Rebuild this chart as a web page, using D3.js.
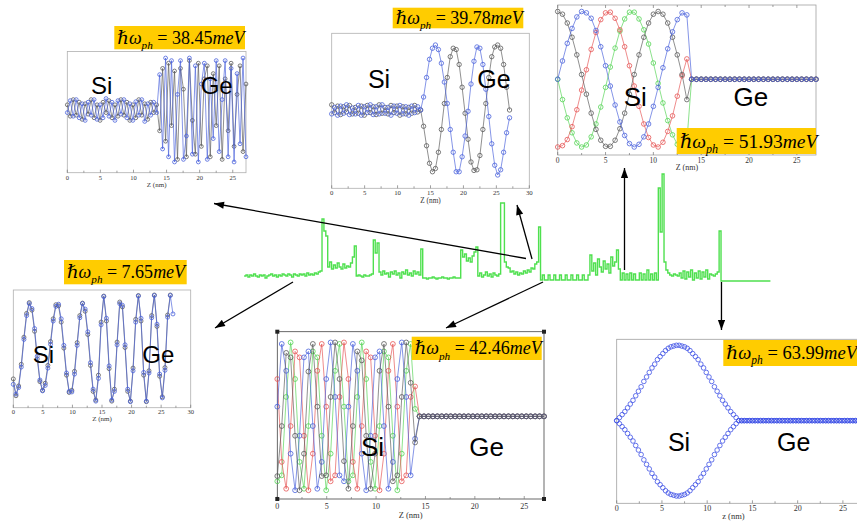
<!DOCTYPE html>
<html><head><meta charset="utf-8">
<script src="https://cdn.jsdelivr.net/npm/d3@7"></script>
<style>html,body{margin:0;padding:0;background:#fff;}svg{display:block;}</style>
</head><body>
<svg id="chart" width="857" height="521"></svg>
<script>
// ================= DATA =================
// central spectrum (arbitrary units) on an energy grid (meV)
const specStart = 1.2, specStep = 0.25;
const spectrum = [
 5,6,4,6,5,7,5,4,6,5, 6,3,5,6,7,5,6,4,6,5, 7,6,5,7,6,4,7,6,5,7, 6,7,5,8,6,7,6,8,7,9, 10,
 62,50,45,
 14,19,12,16,13,18,14,12,17,13,15,14,18,
 24,35,
 5,6,5,4,6,5,5,6,7,
 41,28,38,
 9,6,10,7,8,4,9,7,10,6, 8,3,9,7,11,6,8,5,10,7, 9,6,
 32,
 3,3,2,3,3,4,3,2,3,3, 4,3,3,2,3,3,4,3,3,
 3,
 31,24,27,20,23,19,25,29,34,
 5,8,4,6,9,5,7,4,8,6,5,7,
 78,78,
 19,14,13,9,10,7,9,6,8,7,10,8,11,9,13,12,17,19,
 54,
 1,6,1,1,6,1,1,6,1,1,6,1,1,6,1,1,6,1,1,6,1,1,6,1,1,6,
 26,10,18,6,22,14,9,20,12,17,8,24,15,19,31,12,
 1,8,1,7,1,8,1,7,1,1,8,1,7,1,11,1,7,1,8,1,
 93,49,107,19,11,8,
 6,5,7,6,5,8,3,10,2,9,4,11,1,8,3,10,2,9,4,11,2,7,6,5,7,9,
 50,
 0,0,0,0,0,0,0,0,0,0,0,0,0,0,0,0,0,0,0,0,0,0,0,0,0,0,0
];
const modeEnergies = ["38.45","39.78","51.93","7.65","42.46","63.99"];
// where each arrow leaves the spectrum (energy, value)
const arrowTailE = [38.29, 39.08, 51.25, 7.63, 40.53, 64.01];
const arrowTailV = [22.5, 22, 11, -1, -1, -1];

// inset A : 38.45 meV  (z step 0.45 nm)
const zStepA = 0.45;
const aBlue = [-0.05,0.18,-0.12,0.2,-0.15,0.12,-0.2,0.15,-0.1,0.2,-0.18,0.1,-0.15,0.22,-0.12,0.15,-0.2,0.18,-0.08,0.2,-0.15,0.12,-0.2,0.16,-0.1,0.2,-0.22,0.12,-0.1,0.15,-0.05,
 0.68,-0.75,1.0,-0.9,0.95,-1.0,0.3,0.95,-0.95,-0.5,1.0,-0.85,0.85,-1.0,0.5,0.9,-0.95,0.6,-0.55,0.95,-0.8,0.2,0.95,-0.9,0.8,-1.0,0.7,-0.65,1.0,-0.9];
const aGray = [0.1,-0.12,0.2,-0.1,0.15,-0.18,0.12,-0.08,0.2,-0.15,0.1,-0.2,0.15,-0.05,0.18,-0.15,0.1,-0.12,0.2,-0.1,0.15,-0.2,0.1,-0.15,0.2,-0.1,0.12,-0.18,0.15,-0.05,0.1,
 -0.4,0.8,-0.6,0.9,-0.3,0.75,-0.95,0.8,0.4,-0.9,0.95,-0.2,-0.85,0.9,-0.7,0.6,0.85,-0.9,0.7,-0.3,0.85,-0.95,0.6,-0.4,0.9,-0.7,0.3,0.85,-0.8,0.5];

// inset B : 39.78 meV
const zStepB = 0.45;
const bBlue = [-0.06,0.04,-0.08,0.06,-0.05,0.08,-0.07,0.03,-0.06,0.07,-0.08,0.05,-0.04,0.08,-0.07,0.05,-0.06,0.08,-0.05,0.04,-0.08,0.06,-0.05,0.07,-0.06,0.05,-0.08,0.06,-0.04,0.05,
 0.0,0.2,0.5,0.78,0.95,1.0,0.93,0.72,0.43,0.1,-0.3,-0.65,-0.95,-0.95,-0.72,-0.4,-0.02,0.4,0.75,0.97,0.95,0.7,0.32,-0.1,-0.52,-0.85,-1.0,-0.92,-0.65,-0.35,-0.12];
const bGray = [0.08,-0.04,0.06,-0.07,0.05,-0.03,0.07,-0.06,0.04,-0.05,0.06,-0.08,0.07,-0.04,0.05,-0.07,0.08,-0.05,0.04,-0.06,0.07,-0.04,0.06,-0.08,0.05,-0.06,0.04,-0.05,0.07,-0.03,
 0.0,-0.25,-0.55,-0.82,-0.95,-0.9,-0.65,-0.3,0.1,0.5,0.82,0.95,0.93,0.7,0.35,-0.05,-0.45,-0.8,-0.93,-0.92,-0.7,-0.3,0.1,0.5,0.82,0.97,1.0,0.95,0.7,0.35,0.0];

// inset C : 51.93 meV  (z step 0.5 nm)
const zStepC = 0.5;
const cGe = [0,0,0,0,0,0,0,0,0,0,0,0,0,0,0,0,0,0,0,0,0,0,0,0,0,0,0];
const cBlack = [1.0,0.96,0.83,0.62,0.36,0.07,-0.22,-0.5,-0.74,-0.9,-0.99,-0.99,-0.9,-0.73,-0.5,-0.22,0.07,0.36,0.62,0.83,0.96,1.0,0.96,0.83,0.62,0.36,0.07,-0.3];
const cBlue  = [0.0,0.27,0.53,0.75,0.92,1.0,0.98,0.9,0.72,0.48,0.2,-0.1,-0.38,-0.63,-0.83,-0.95,-1.0,-0.96,-0.85,-0.66,-0.4,-0.12,0.17,0.45,0.7,0.88,0.98,0.95];
const cRed   = [-1.0,-0.98,-0.89,-0.7,-0.45,-0.16,0.14,0.44,0.69,0.88,0.98,0.99,0.9,0.73,0.48,0.2,-0.1,-0.4,-0.66,-0.86,-0.97,-1.0,-0.93,-0.77,-0.54,-0.25,0.05,0.3];
const cGreen = [0,-0.3,-0.57,-0.79,-0.94,-1.0,-0.97,-0.85,-0.66,-0.41,-0.12,0.18,0.46,0.71,0.89,0.99,0.99,0.89,0.73,0.52,0.24,-0.06,-0.35,-0.61,-0.82,-0.96,-1.0,-0.92];

// inset D : 7.65 meV
const zStepD = 0.45;
const dBlue = [-0.65,-0.83,-0.71,-0.33,0.18,0.62,0.84,0.75,0.38,-0.13,-0.57,-0.77,-0.67,-0.35,0.09,0.52,0.79,0.83,0.56,0.07,
 -0.44,-0.78,-0.79,-0.46,0.07,0.58,0.84,0.74,0.32,-0.25,-0.74,-0.96,-0.54,0.45,0.97,0.57,-0.31,-0.94,-0.78,0.08,
 0.84,0.81,0.08,-0.74,-0.97,-0.4,0.5,0.98,0.57,-0.43,-0.96,-0.44,0.58,0.99,0.46,-0.46,-0.9,-0.39,0.59,0.99,0.65];
const dGray = [-0.55,-0.86,-0.68,-0.28,0.22,0.66,0.86,0.72,0.33,-0.18,-0.6,-0.76,-0.63,-0.3,0.14,0.56,0.82,0.8,0.5,0.02,
 -0.48,-0.8,-0.76,-0.41,0.12,0.62,0.85,0.7,0.27,-0.3,-0.78,-0.94,-0.48,0.5,0.98,0.52,-0.36,-0.96,-0.74,0.13,
 0.87,0.78,0.03,-0.78,-0.96,-0.35,0.55,0.99,0.52,-0.48,-0.97,-0.4,0.62,1.0,0.42,-0.5,-0.88,-0.34,0.63,1.0];

// inset E : 42.46 meV
const zStepE = 0.45;
const eGe = [0,0,0,0,0,0,0,0,0,0,0,0,0,0,0,0,0,0,0,0,0,0,0,0,0,0,0,0,0];
const eBlack = [-0.8,-0.13,0.85,0.79,-0.26,-0.99,-0.5,0.6,0.97,0.13,-0.8,-0.79,0.26,0.99,0.5,-0.6,-0.97,-0.13,0.87,0.75,-0.26,-0.97,-0.5,0.61,0.97,0.13,-0.87,-0.79,0.26,0.99,0.45,-0.35];
const eBlue  = [0.13,0.97,0.61,-0.5,-0.99,-0.26,0.79,0.87,-0.13,-0.97,-0.61,0.5,0.99,0.26,-0.79,-0.87,0.13,0.97,0.61,-0.5,-0.99,-0.26,0.79,0.87,-0.13,-0.97,-0.61,0.5,0.99,0.26,-0.79,-0.3];
const eRed   = [0.5,-0.61,-0.97,-0.13,0.87,0.79,-0.26,-0.99,-0.5,0.61,0.97,0.13,-0.87,-0.79,0.26,0.99,0.5,-0.61,-0.97,-0.13,0.87,0.79,-0.26,-0.99,-0.5,0.61,0.97,0.13,-0.87,-0.79,0.26,0.4];
const eGreen = [-0.87,-0.79,0.26,0.99,0.5,-0.61,-0.97,-0.13,0.87,0.79,-0.26,-0.99,-0.5,0.61,0.97,0.13,-0.87,-0.79,0.26,0.99,0.5,-0.61,-0.97,-0.13,0.87,0.79,-0.26,-0.99,-0.5,0.61,0.97,0.1];

// inset F : 63.99 meV  (z step 0.3 nm)
const zStepF = 0.3;
const fGe = [0,0,0,0,0,0,0,0,0,0,0,0,0,0,0,0,0,0,0,0,0,0,0,0,0,0,0,0,0,0,0,0,0,0,0,0,0,0,0,0,0,0,0,0,0];
const fUpper = [0,0.04,0.08,0.12,0.17,0.22,0.27,0.33,0.39,0.45,0.52,0.58,0.64,0.7,0.75,0.81,0.85,0.89,0.93,0.96,0.98,0.99,1.0,1.0,0.99,0.98,0.96,0.93,0.89,0.85,0.81,0.75,0.7,0.64,0.58,0.52,0.45,0.39,0.33,0.27,0.22,0.17,0.12,0.08,0.04,0];
const fLower = [0,-0.04,-0.08,-0.12,-0.17,-0.22,-0.27,-0.33,-0.39,-0.45,-0.52,-0.58,-0.64,-0.7,-0.75,-0.81,-0.85,-0.89,-0.93,-0.96,-0.98,-0.99,-1.0,-1.0,-0.99,-0.98,-0.96,-0.93,-0.89,-0.85,-0.81,-0.75,-0.7,-0.64,-0.58,-0.52,-0.45,-0.39,-0.33,-0.27,-0.22,-0.17,-0.12,-0.08,-0.04,0];

// ================= STYLE / LAYOUT =================
const COL = {blue:'#4a62dc', gray:'#5a5a5a', red:'#e65555', green:'#55d455', spec:'#4fe04f', box:'#FFCC00'};
const insets = [
 {energy:modeEnergies[0], frame:[67.3,51.5,246,172.7], zmax:27, amp:[162,58], tickDy:7, zDy:14.5, tickFs:6.5, zAt:13.5, zText:'Z (nm)', fc:'#b0b0b0',
  box:[114.3,26,245,49.3], boxFs:18, si:[101.7,94], ge:[216.7,94], labFs:24,
  series:[{v:aGray,s:zStepA,c:COL.gray,r:1.9},{v:aBlue,s:zStepA,c:COL.blue,r:1.9}]},
 {energy:modeEnergies[1], frame:[331.7,33.3,529.3,188.3], zmax:30, amp:[175,45], tickDy:6.2, zDy:14.2, tickFs:6.8, zAt:15, zText:'Z (nm)', fc:'#b0b0b0',
  box:[392.7,7.7,523.3,28.3], boxFs:18, si:[379,88.3], ge:[494,88.3], labFs:25,
  series:[{v:bGray,s:zStepB,c:COL.gray,r:2.2},{v:bBlue,s:zStepB,c:COL.blue,r:2.2}]},
 {energy:modeEnergies[2], frame:[557.7,5,816,155], zmax:27, amp:[147,11.5], tickDy:8, zDy:14.5, tickFs:7.5, zAt:13.5, zText:'Z (nm)', fc:'#a0a0a0', topTicks:true,
  box:[676.7,128,816,154], boxFs:19.5, si:[635.3,106], ge:[750.8,106], labFs:26,
  series:[{v:cGreen.concat(cGe),s:zStepC,c:COL.green,r:2.3},{v:cRed.concat(cGe),s:zStepC,c:COL.red,r:2.3},{v:cBlack.concat(cGe),s:zStepC,c:COL.gray,r:2.3},{v:cBlue.concat(cGe),s:zStepC,c:COL.blue,r:2.3}]},
 {energy:modeEnergies[3], frame:[13.3,290,190.7,407.7], zmax:30, amp:[403.3,295], tickDy:6.5, zDy:13.5, tickFs:6.5, zAt:15, zText:'Z (nm)', fc:'#b0b0b0',
  box:[64,260,186.7,284.3], boxFs:18, si:[43.3,363.3], ge:[158.3,363.3], labFs:24,
  series:[{v:dGray,s:zStepD,c:COL.gray,r:2},{v:dBlue,s:zStepD,c:COL.blue,r:2}]},
 {energy:modeEnergies[4], frame:[277.3,331.7,544,499], zmax:27, amp:[491,341.7], tickDy:10, zDy:18.5, tickFs:8, zAt:13.5, zText:'Z (nm)', fc:'#444', corners:true,
  box:[411.7,336.7,541.7,360], boxFs:18, si:[372.5,455.7], ge:[486.7,455.7], labFs:26,
  series:[{v:eGreen.concat(eGe),s:zStepE,c:COL.green,r:2.4},{v:eRed.concat(eGe),s:zStepE,c:COL.red,r:2.4},{v:eBlue.concat(eGe),s:zStepE,c:COL.blue,r:2.4},{v:eBlack.concat(eGe),s:zStepE,c:COL.gray,r:2.4}]},
 {energy:modeEnergies[5], frame:[616.7,339.3,861,503.3], zmax:27, amp:[496,345.3], tickDy:8, zDy:15.5, tickFs:8, zAt:12.9, zText:'z (nm)', fc:'#a0a0a0',
  box:[723.3,340,860,366], boxFs:18.5, si:[679,450.7], ge:[793.7,450.7], labFs:25,
  series:[{v:fUpper.concat(fGe),s:zStepF,c:'#3f52e6',r:2.3,noLine:true},{v:fLower.concat(fGe),s:zStepF,c:'#3f52e6',r:2.3,noLine:true}]}
];
const arrowHeads = [[214,203.5],[517,205],[624.5,168],[215,328],[446,328],[721.5,330]];

// ================= DRAW =================
const svg = d3.select('#chart');
svg.append('rect').attr('width',857).attr('height',521).attr('fill','#fff');
const serif = '"Liberation Serif","Times New Roman","DejaVu Serif",serif';
const sans = '"Liberation Sans",Arial,sans-serif';

insets.forEach(cfg => {
  const [x0,y0,x1,y1] = cfg.frame;
  const g = svg.append('g');
  const x = d3.scaleLinear().domain([0,cfg.zmax]).range([x0,x1]);
  const y = d3.scaleLinear().domain([-1,1]).range(cfg.amp);
  g.append('rect').attr('x',x0).attr('y',y0).attr('width',x1-x0).attr('height',y1-y0)
    .attr('fill','#fff').attr('stroke',cfg.fc).attr('stroke-width',0.8);
  const ticks = d3.range(0, cfg.zmax+0.001, 2.5);
  ticks.forEach(t => {
    const len = (t%5===0)?3:2;
    g.append('line').attr('x1',x(t)).attr('x2',x(t)).attr('y1',y1).attr('y2',y1-len).attr('stroke','#777').attr('stroke-width',0.7);
    if (cfg.topTicks) g.append('line').attr('x1',x(t)).attr('x2',x(t)).attr('y1',y0).attr('y2',y0+len).attr('stroke','#777').attr('stroke-width',0.7);
    if (t%5===0) g.append('text').attr('x',x(t)).attr('y',y1+cfg.tickDy).attr('text-anchor','middle')
      .attr('font-family',serif).attr('font-size',cfg.tickFs).attr('fill','#333').text(d3.format('d')(t));
  });
  g.append('text').attr('x',x(cfg.zAt)).attr('y',y1+cfg.zDy).attr('text-anchor','middle')
    .attr('font-family',serif).attr('font-size',cfg.tickFs+0.5).attr('fill','#333').text(cfg.zText);
  if (cfg.corners) [[x0,y0],[x1,y0],[x0,y1],[x1,y1]].forEach(p =>
    g.append('rect').attr('x',p[0]-2).attr('y',p[1]-2).attr('width',4).attr('height',4).attr('fill','#222'));
  // series
  cfg.series.forEach(s => {
    const pts = s.v.map((v,i) => [s.s*i, v]);
    if (!s.noLine) g.append('path').datum(pts).attr('d', d3.line().x(d=>x(d[0])).y(d=>y(d[1])))
      .attr('fill','none').attr('stroke',s.c).attr('stroke-width',0.8).attr('stroke-opacity',0.85);
    g.selectAll(null).data(pts).enter().append('circle')
      .attr('cx',d=>x(d[0])).attr('cy',d=>y(d[1])).attr('r',s.r)
      .attr('fill','none').attr('stroke',s.c).attr('stroke-width',0.8);
  });
  // Si / Ge labels
  g.append('text').attr('x',cfg.si[0]).attr('y',cfg.si[1]).attr('text-anchor','middle')
    .attr('font-family',sans).attr('font-size',cfg.labFs).attr('fill','#000').text('Si');
  g.append('text').attr('x',cfg.ge[0]).attr('y',cfg.ge[1]).attr('text-anchor','middle')
    .attr('font-family',sans).attr('font-size',cfg.labFs).attr('fill','#000').text('Ge');
  // energy label box
  const [bx0,by0,bx1,by1] = cfg.box;
  g.append('rect').attr('x',bx0).attr('y',by0).attr('width',bx1-bx0).attr('height',by1-by0).attr('fill',COL.box);
  const fs = cfg.boxFs;
  const t = g.append('text').attr('x',bx0+3).attr('y',by1-(by1-by0-fs*0.68)/2).attr('font-family',serif).attr('font-size',fs).attr('fill','#000');
  t.append('tspan').attr('font-style','italic').text('ℏω');
  t.append('tspan').attr('font-style','italic').attr('font-size',fs*0.62).attr('dy',fs*0.28).text('ph');
  t.append('tspan').attr('dy',-fs*0.28).text(' = ' + cfg.energy);
  t.append('tspan').attr('font-style','italic').text('meV');
});

// central spectrum
const xSpec = d3.scaleLinear().domain([0,70.4]).range([235,770.04]);
const ySpec = d3.scaleLinear().domain([0,110]).range([281,171]);
const specPts = spectrum.map((v,i) => ({e: specStart + specStep*i, v}));
svg.append('path').datum(specPts)
  .attr('d', d3.line().curve(d3.curveStepAfter).x(d=>xSpec(d.e)).y(d=>ySpec(d.v)))
  .attr('fill','none').attr('stroke',COL.spec).attr('stroke-width',1.4);

// arrows
const defs = svg.append('defs');
defs.append('marker').attr('id','ah').attr('markerUnits','userSpaceOnUse')
  .attr('viewBox','0 -4 10 8').attr('refX',10).attr('refY',0).attr('markerWidth',11).attr('markerHeight',8).attr('orient','auto')
  .append('path').attr('d','M0,-3.6L10,0L0,3.6Z').attr('fill','#000');
arrowTailE.forEach((e,i) => {
  svg.append('line').attr('x1',xSpec(e)).attr('y1',ySpec(arrowTailV[i]))
    .attr('x2',arrowHeads[i][0]).attr('y2',arrowHeads[i][1])
    .attr('stroke','#000').attr('stroke-width',1.3).attr('marker-end','url(#ah)');
});
</script>
</body></html>
